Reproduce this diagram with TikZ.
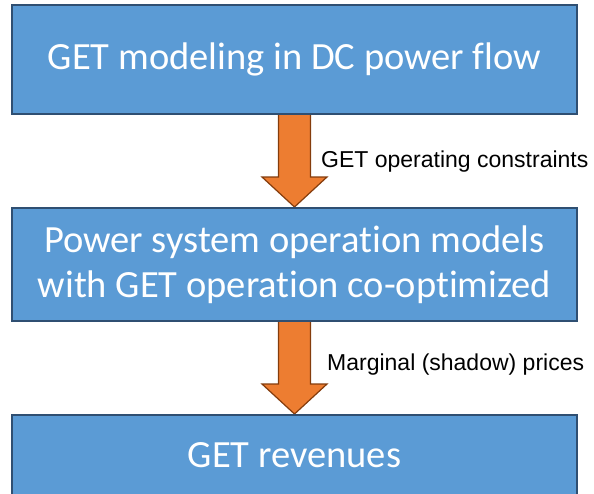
\documentclass[tikz,border=0pt]{standalone}
\usepackage{fontspec}
\setmainfont[RawFeature={-liga;-clig}]{Carlito}
\newfontfamily\labelfont{Liberation Sans}
\usetikzlibrary{calc}
\definecolor{boxblue}{HTML}{5B9BD5}
\definecolor{boxedge}{HTML}{2F4F72}
\definecolor{arroworange}{HTML}{ED7D31}
\definecolor{arrowedge}{HTML}{843C0C}
\pgfdeclarelayer{back}
\pgfsetlayers{back,main}
\begin{document}
\begin{tikzpicture}[x=1pt,y=-1pt,
  box/.style={draw=boxedge, line width=2pt, fill=boxblue, text=white,
    font=\fontsize{38.5}{44.5}\selectfont, align=center,
    minimum width=565pt, inner sep=0pt},
  flowarrow/.style={draw=arrowedge, line width=1.2pt, fill=arroworange, line join=miter},
  note/.style={font=\labelfont\fontsize{23}{27}\selectfont, anchor=base west, inner sep=0pt}]
\useasboundingbox (0,0) rectangle (594,493);

% process boxes
\node[box, minimum height=109pt] (model) at (294.5,59.5) {GET modeling in DC power flow};
\node[box, minimum height=113pt] (ops) at (294.5,264.5)
  {Power system operation models\\with GET operation co-optimized};
\node[box, minimum height=80pt] (rev) at (294.5,455) {GET revenues};

% block arrows between the boxes, kept behind the box borders
\begin{pgfonlayer}{back}
\draw[flowarrow] ($(model.south)+(-16,-1)$) -- ($(model.south)+(16,-1)$)
  -- ($(ops.north)+(16,-30)$) -- ($(ops.north)+(32.5,-30)$) -- (ops.north)
  -- ($(ops.north)+(-32.5,-30)$) -- ($(ops.north)+(-16,-30)$) -- cycle;
\draw[flowarrow] ($(ops.south)+(-16,-1)$) -- ($(ops.south)+(16,-1)$)
  -- ($(rev.north)+(16,-30)$) -- ($(rev.north)+(32.5,-30)$) -- (rev.north)
  -- ($(rev.north)+(-32.5,-30)$) -- ($(rev.north)+(-16,-30)$) -- cycle;
\end{pgfonlayer}

% arrow labels
\node[note] (lab1) at (321,167) {GET operating constraints};
\node[note] (lab2) at (327,370) {Marginal (shadow) prices};
\end{tikzpicture}
\end{document}
